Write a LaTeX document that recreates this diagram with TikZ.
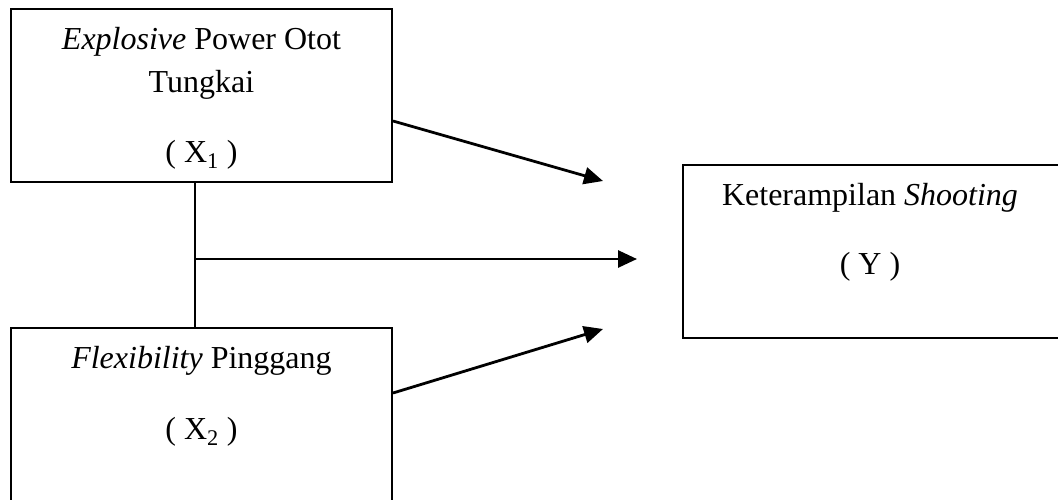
\documentclass[tikz,border=0pt]{standalone}
\usepackage{fontspec}
\setmainfont{Liberation Serif}
\usetikzlibrary{arrows.meta}
\begin{document}
\begin{tikzpicture}[x=1pt,y=-1pt,
  box/.style={draw=black,line width=2pt,minimum width=381pt,inner sep=0pt},
  lbl/.style={anchor=base,inner sep=0pt,font=\fontsize{32}{36}\selectfont},
  conn/.style={line width=2.8pt,-{Triangle[length=19pt,width=17pt]}},
  plain/.style={line width=2pt}]
\useasboundingbox (0,0) rectangle (1058,499);
\clip (0,0) rectangle (1058,499);
\node[box,minimum height=173pt] (b1) at (201.5,95.5) {};
\node[box,minimum height=192pt] (b2) at (201.5,424) {};
\node[box,minimum width=387pt,minimum height=173pt] (b3) at (876.5,251.5) {};
\node[lbl] (t1a) at (201.5,49) {\textit{Explosive} Power Otot};
\node[lbl] (t1b) at (201.5,92) {Tungkai};
\node[lbl] (t1c) at (201.5,162) {( X\textsubscript{1} )};
\node[lbl] (t2a) at (201.5,368) {\textit{Flexibility} Pinggang};
\node[lbl] (t2b) at (201.5,439) {( X\textsubscript{2} )};
\node[lbl] (t3a) at (870,205) {Keterampilan \textit{Shooting}};
\node[lbl] (t3b) at (870,274) {( Y )};
\coordinate (j) at (195,259);
\coordinate (tip1) at (603,181);
\coordinate (tip2) at (637,259);
\coordinate (tip3) at (603,329);
\draw[plain] ([xshift=-6.5pt]b1.south) -- ([xshift=-6.5pt]b2.north);
\draw[conn] ([yshift=-25.5pt]b1.east) -- (tip1);
\draw[conn] (j) -- (tip2);
\draw[conn] ([yshift=31pt]b2.east) -- (tip3);
\end{tikzpicture}
\end{document}
